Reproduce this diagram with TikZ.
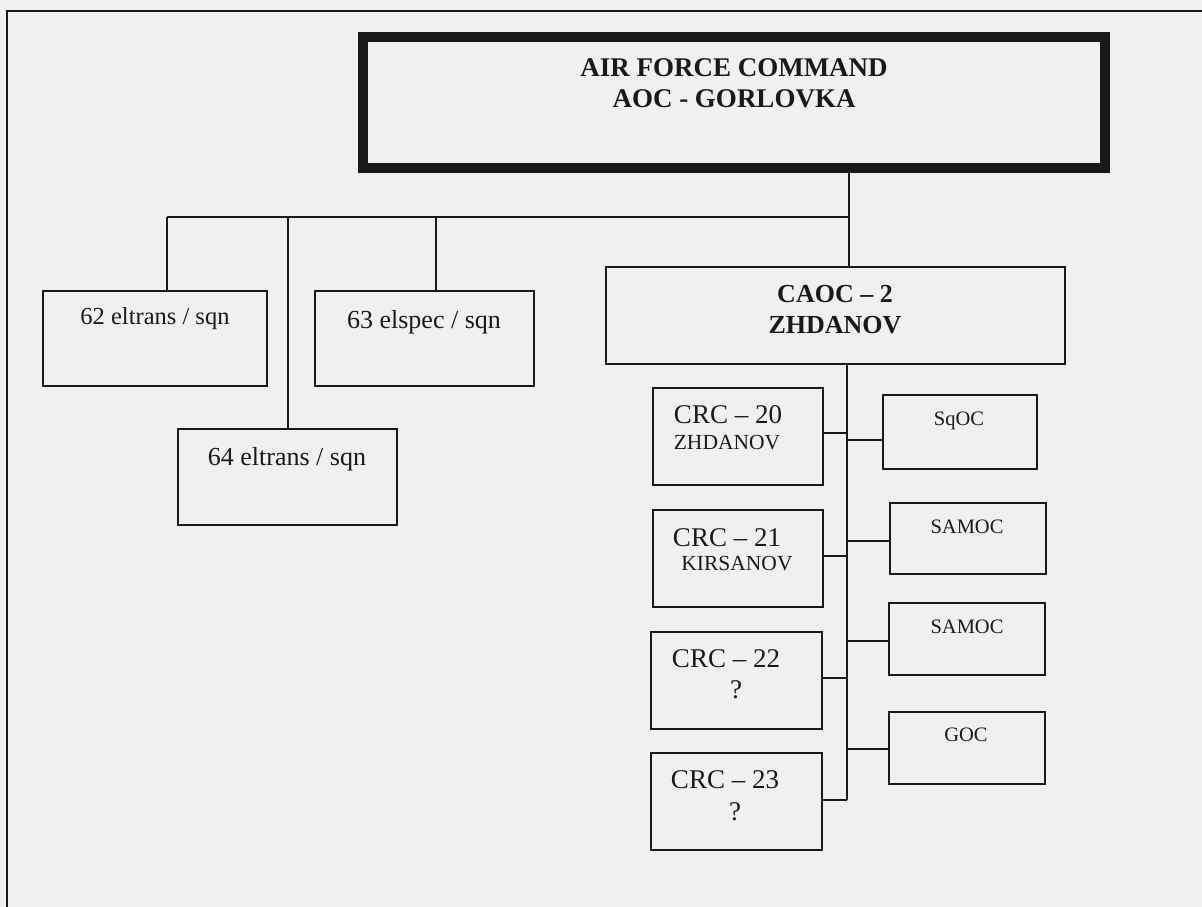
\documentclass[tikz,border=0pt]{standalone}
\usepackage{fontspec}
\setmainfont{Liberation Serif}
\definecolor{paper}{RGB}{238,241,238}
\definecolor{ink}{RGB}{25,25,25}
\tikzset{
  x=1pt, y=-1pt,
  box/.style={draw=ink, line width=1.8pt, rectangle, inner sep=0pt},
  bigbox/.style={draw=ink, line width=10pt, rectangle, inner sep=0pt},
  wire/.style={draw=ink, line width=1.8pt},
  txt/.style={text=ink, anchor=base, inner sep=0pt},
  fbig/.style={font=\fontsize{27}{30}\selectfont\bfseries},
  fbold/.style={font=\fontsize{26}{30}\selectfont\bfseries},
  fcrc/.style={font=\fontsize{27}{30}\selectfont},
  fname/.style={font=\fontsize{21.5}{26}\selectfont},
  fsmall/.style={font=\fontsize{20.5}{24}\selectfont},
  fleft/.style={font=\fontsize{24.5}{28}\selectfont},
  fleftb/.style={font=\fontsize{26}{30}\selectfont}
}
\begin{document}
\begin{tikzpicture}
\useasboundingbox (0,0) rectangle (1202,907);
\fill[paper] (0,0) rectangle (1202,907);
% frame
\draw[ink, line width=2.2pt] (7,907) -- (7,11) -- (1202,11);

% top box
\node[bigbox, minimum width=742pt, minimum height=131pt] (top) at (734,102.5) {};
\node[txt, fbig] (topa) at (734,77) {AIR FORCE COMMAND};
\node[txt, fbig] (topb) at (734,107) {AOC - GORLOVKA};

% left boxes
\node[box, minimum width=224pt, minimum height=95pt] (b62) at (155,338.5) {};
\node[txt, fleft] (t62) at (155,324) {62 eltrans / sqn};
\node[box, minimum width=219pt, minimum height=95pt] (b63) at (424.5,338.5) {};
\node[txt, fleftb] (t63) at (424,328) {63 elspec / sqn};
\node[box, minimum width=219pt, minimum height=96pt] (b64) at (287.5,477) {};
\node[txt, fleftb] (t64) at (287,465) {64 eltrans / sqn};

% CAOC
\node[box, minimum width=459pt, minimum height=97pt] (caoc) at (835.5,315.5) {};
\node[txt, fbold] (caoca) at (835,302) {CAOC -- 2};
\node[txt, fbold] (caocb) at (835,333) {ZHDANOV};

% CRC boxes
\node[box, minimum width=170pt, minimum height=97pt] (crc20) at (738,436.5) {};
\node[txt, fcrc] (c20a) at (728,423) {CRC -- 20};
\node[txt, fname] (c20b) at (727,449) {ZHDANOV};
\node[box, minimum width=170pt, minimum height=97pt] (crc21) at (738,558.5) {};
\node[txt, fcrc] (c21a) at (727,546) {CRC -- 21};
\node[txt, fname] (c21b) at (737,570) {KIRSANOV};
\node[box, minimum width=171pt, minimum height=97pt] (crc22) at (736.5,680.5) {};
\node[txt, fcrc] (c22a) at (726,667) {CRC -- 22};
\node[txt, fcrc] (c22b) at (736,698) {?};
\node[box, minimum width=171pt, minimum height=97pt] (crc23) at (736.5,801.5) {};
\node[txt, fcrc] (c23a) at (725,788) {CRC -- 23};
\node[txt, fcrc] (c23b) at (735,820) {?};

% right small boxes
\node[box, minimum width=154pt, minimum height=74pt] (sqoc) at (960,432) {};
\node[txt, fsmall] (tsq) at (959,425) {SqOC};
\node[box, minimum width=156pt, minimum height=71pt] (sam1) at (968,538.5) {};
\node[txt, fsmall] (ts1) at (967,533) {SAMOC};
\node[box, minimum width=156pt, minimum height=72pt] (sam2) at (967,639) {};
\node[txt, fsmall] (ts2) at (967,633) {SAMOC};
\node[box, minimum width=156pt, minimum height=72pt] (goc) at (967,748) {};
\node[txt, fsmall] (tgoc) at (966,741) {GOC};

% upper connectors
\coordinate (j) at (849,217);
\coordinate (l1) at (167,217);
\coordinate (l2) at (288,217);
\coordinate (l3) at (436,217);
\draw[wire] (top.south -| j) -- (j |- caoc.north);
\draw[wire] (l1) -- (j);
\draw[wire] (l1) -- (l1 |- b62.north);
\draw[wire] (l2) -- (l2 |- b64.north);
\draw[wire] (l3) -- (l3 |- b63.north);

% right bus
\coordinate (rb) at (847,364);
\draw[wire] (caoc.south -| rb) -- ([yshift=1.5pt]rb |- crc23.east);
\draw[wire] ([yshift=3.5pt]crc20.east) -- ([yshift=3.5pt]crc20.east -| rb);
\draw[wire] ([yshift=2.5pt]crc21.east) -- ([yshift=2.5pt]crc21.east -| rb);
\draw[wire] ([yshift=2.5pt]crc22.east) -- ([yshift=2.5pt]crc22.east -| rb);
\draw[wire] ([yshift=1.5pt]crc23.east) -- ([yshift=1.5pt]crc23.east -| rb);
\draw[wire] ([yshift=-8pt]sqoc.west -| rb) -- ([yshift=-8pt]sqoc.west);
\draw[wire] ([yshift=-2.5pt]sam1.west -| rb) -- ([yshift=-2.5pt]sam1.west);
\draw[wire] ([yshift=-2pt]sam2.west -| rb) -- ([yshift=-2pt]sam2.west);
\draw[wire] ([yshift=-1pt]goc.west -| rb) -- ([yshift=-1pt]goc.west);
\end{tikzpicture}
\end{document}
